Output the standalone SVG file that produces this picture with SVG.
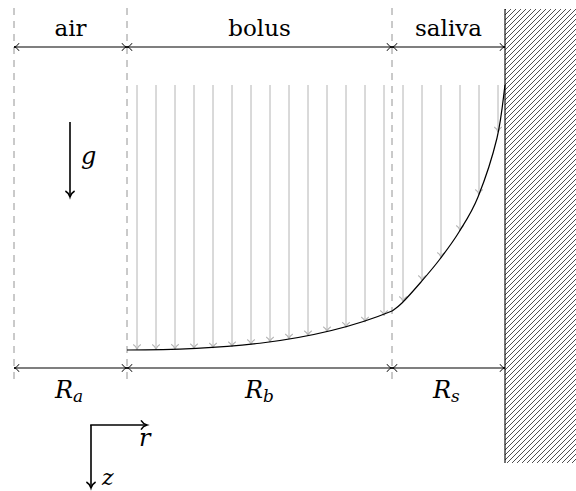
<svg xmlns="http://www.w3.org/2000/svg" width="576" height="491" viewBox="0 0 576 491">
<style>
.lbl{fill:#000;text-anchor:middle}
.math{font-style:italic;fill:#000}
.sub{font-size:17px}
.dash{stroke:#888;stroke-width:0.9;stroke-dasharray:7 6;fill:none}
.dim{stroke:#000;stroke-width:1.1;fill:none;marker-start:url(#tob);marker-end:url(#tob)}
.flow{stroke:#b4b4b4;stroke-width:1;fill:none;marker-end:url(#tog)}
.axis{stroke:#000;stroke-width:1.6;fill:none;marker-end:url(#tok)}
.curve{stroke:#000;stroke-width:1.2;fill:none}
</style>
<defs>
<marker id="tob" markerUnits="userSpaceOnUse" orient="auto-start-reverse" markerWidth="12" markerHeight="12" refX="0" refY="0" viewBox="-7 -6 8 12" overflow="visible">
<path d="M-5,-3.8 C-3.5,-1.2 -1.2,-0.3 0,0 C-1.2,0.3 -3.5,1.2 -5,3.8" stroke="#000" stroke-width="1" fill="none"/>
</marker>
<marker id="tog" markerUnits="userSpaceOnUse" orient="auto" markerWidth="12" markerHeight="12" refX="0" refY="0" viewBox="-7 -6 8 12" overflow="visible">
<path d="M-5,-3.8 C-3.5,-1.2 -1.2,-0.3 0,0 C-1.2,0.3 -3.5,1.2 -5,3.8" stroke="#b4b4b4" stroke-width="1.1" fill="none"/>
</marker>
<marker id="tok" markerUnits="userSpaceOnUse" orient="auto" markerWidth="14" markerHeight="14" refX="0" refY="0" viewBox="-8 -7 9 14" overflow="visible">
<path d="M-6,-4.6 C-4.2,-1.5 -1.4,-0.4 0,0 C-1.4,0.4 -4.2,1.5 -6,4.6" stroke="#000" stroke-width="1.5" fill="none"/>
</marker>
<pattern id="hatch" patternUnits="userSpaceOnUse" width="5" height="5">
<path d="M-1,6 L6,-1 M-1,1 L1,-1 M4,6 L6,4" stroke="#222" stroke-width="0.8"/>
</pattern>
</defs>

<g id="wall">
<rect x="505" y="9" width="75" height="454" fill="url(#hatch)"/>
<line x1="505" y1="9" x2="505" y2="463" stroke="#000" stroke-width="1.1"/>
</g>

<g id="boundaries">
<line class="dash" x1="14" y1="8" x2="14" y2="383"/>
<line class="dash" x1="127" y1="8" x2="127" y2="383"/>
<line class="dash" x1="392" y1="8" x2="392" y2="383"/>
</g>

<g id="velocity-field">
<line class="flow" x1="137" y1="85" x2="137" y2="349.5"/>
<line class="flow" x1="156" y1="85" x2="156" y2="349.5"/>
<line class="flow" x1="175" y1="85" x2="175" y2="349.3"/>
<line class="flow" x1="194" y1="85" x2="194" y2="348.8"/>
<line class="flow" x1="213" y1="85" x2="213" y2="348"/>
<line class="flow" x1="232" y1="85" x2="232" y2="346.7"/>
<line class="flow" x1="251" y1="85" x2="251" y2="344.6"/>
<line class="flow" x1="270" y1="85" x2="270" y2="342"/>
<line class="flow" x1="289" y1="85" x2="289" y2="339"/>
<line class="flow" x1="308" y1="85" x2="308" y2="335.7"/>
<line class="flow" x1="327" y1="85" x2="327" y2="331.8"/>
<line class="flow" x1="346" y1="85" x2="346" y2="327.3"/>
<line class="flow" x1="365" y1="85" x2="365" y2="322"/>
<line class="flow" x1="384" y1="85" x2="384" y2="315.5"/>
<line class="flow" x1="403" y1="85" x2="403" y2="301.5"/>
<line class="flow" x1="422" y1="85" x2="422" y2="280.5"/>
<line class="flow" x1="441" y1="85" x2="441" y2="257.5"/>
<line class="flow" x1="460" y1="85" x2="460" y2="230.5"/>
<line class="flow" x1="479" y1="85" x2="479" y2="194.5"/>
<line class="flow" x1="498" y1="85" x2="498" y2="132"/>
</g>

<g id="profile">
<path class="curve" d="M127,350 C210,350 310,345 392,311"/>
<path class="curve" d="M392,311 C393.7,309.7 397.2,307.8 402,303 C406.8,298.2 414.7,289.3 421,282 C427.3,274.7 433.7,267.3 440,259 C446.3,250.7 452.7,242.3 459,232 C465.3,221.7 471.7,212.7 478,197 C484.3,181.3 492.5,156.7 497,138 C501.5,119.3 503.7,93.8 505,85"/>
</g>

<g id="connectors">
<line class="dim" x1="14" y1="47" x2="127" y2="47"/>
<line class="dim" x1="127" y1="47" x2="392" y2="47"/>
<line class="dim" x1="392" y1="47" x2="505" y2="47"/>
<line class="dim" x1="14" y1="368" x2="127" y2="368"/>
<line class="dim" x1="127" y1="368" x2="392" y2="368"/>
<line class="dim" x1="392" y1="368" x2="505" y2="368"/>
</g>

<g id="labels-top" font-family="DejaVu Serif, Liberation Serif, serif" font-size="23">
<text class="lbl" x="70.5" y="36">air</text>
<text class="lbl" x="259.5" y="36">bolus</text>
<text class="lbl" x="448.5" y="36">saliva</text>
</g>

<g id="labels-bottom" font-family="DejaVu Serif, Liberation Serif, serif" font-size="24">
<text class="math" x="55" y="398">R<tspan class="sub" dy="4">a</tspan></text>
<text class="math" x="245" y="398">R<tspan class="sub" dy="4">b</tspan></text>
<text class="math" x="433" y="398">R<tspan class="sub" dy="4">s</tspan></text>
</g>

<g id="gravity">
<line class="axis" x1="70" y1="122" x2="70" y2="197"/>
<text class="math" x="81" y="164" font-family="DejaVu Serif, Liberation Serif, serif" font-size="24">g</text>
</g>

<g id="axes">
<line class="axis" x1="90.2" y1="425" x2="147" y2="425"/>
<line class="axis" x1="91" y1="425" x2="91" y2="488"/>
<text class="math" x="139" y="446" font-family="DejaVu Serif, Liberation Serif, serif" font-size="24">r</text>
<text class="math" x="102" y="485" font-family="DejaVu Serif, Liberation Serif, serif" font-size="22">z</text>
</g>
</svg>
